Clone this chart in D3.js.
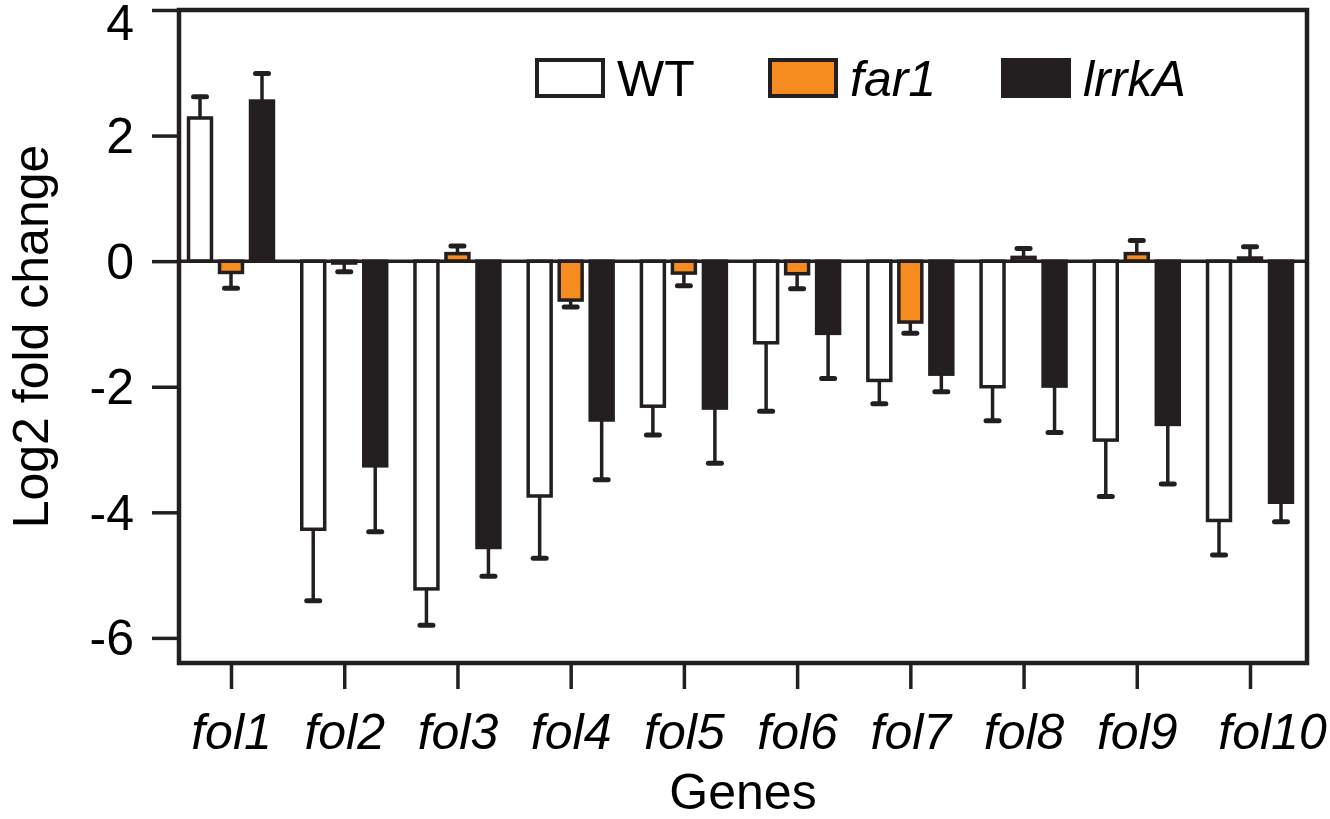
<!DOCTYPE html>
<html>
    <head>
        <title>Log2 fold change of fol genes</title>
        <script src="https://d3js.org/d3.v7.min.js"></script>
        <style>
            body { margin: 0; background: #fff; }
            text { font-family: "Liberation Sans", Arial, sans-serif; fill: #000; }
        </style>
    </head>
    <body>
        <div id="chart"></div>
        <script>
            //  data
            const genes = ["fol1", "fol2", "fol3", "fol4", "fol5", "fol6", "fol7", "fol8", "fol9", "fol10"];
            const series = ["WT", "far1", "lrrkA"];
            const wtMean = [2.28, -4.27, -5.22, -3.74, -2.31, -1.30, -1.90, -2.00, -2.85, -4.13];
            const wtErr = [0.34, 1.14, 0.58, 0.99, 0.46, 1.09, 0.37, 0.54, 0.90, 0.55];
            const far1Mean = [-0.18, -0.03, 0.12, -0.62, -0.19, -0.20, -0.97, 0.06, 0.12, 0.05];
            const far1Err = [0.25, 0.14, 0.12, 0.11, 0.20, 0.24, 0.18, 0.14, 0.21, 0.18];
            const lrrkMean = [2.55, -3.26, -4.56, -2.53, -2.34, -1.15, -1.80, -1.99, -2.60, -3.84];
            const lrrkErr = [0.44, 1.05, 0.46, 0.95, 0.88, 0.72, 0.28, 0.74, 0.95, 0.31];
            const yTicks = [4, 2, 0, -2, -4, -6];

            //  chart dimensions
            const width = 1330;
            const height = 819;
            const plot = {left: 179, right: 1307, top: 10, bottom: 663};

            const dark = "#231f20";
            const colors = {WT: "#ffffff", far1: "#f68b1f", lrrkA: "#231f20"};
            const italic = {WT: false, far1: true, lrrkA: true};

            const means = {WT: wtMean, far1: far1Mean, lrrkA: lrrkMean};
            const errs = {WT: wtErr, far1: far1Err, lrrkA: lrrkErr};

            //  flatten into one row per bar
            const rows = [];
            genes.forEach((g, i) => {
                series.forEach(s => {
                    rows.push({gene: g, series: s, value: means[s][i], err: errs[s][i]});
                });
            });

            const svg = d3.select("#chart").append("svg")
                .attr("width", width)
                .attr("height", height);

            //  scales
            const x = d3.scalePoint()
                .domain(genes)
                .range([231, 1250]);

            const xs = d3.scaleBand()
                .domain(series)
                .range([-46.5, 46.5])
                .paddingInner(0.26)
                .paddingOuter(0.13);

            const y = d3.scaleLinear()
                .domain([-6.4, 4])
                .range([plot.bottom, plot.top]);

            //  bars
            svg.append("g")
                .selectAll("rect")
                .data(rows)
                .join("rect")
                    .attr("x", d => x(d.gene) + xs(d.series))
                    .attr("width", xs.bandwidth())
                    .attr("y", d => y(Math.max(0, d.value)))
                    .attr("height", d => Math.abs(y(d.value) - y(0)))
                    .attr("fill", d => colors[d.series])
                    .attr("stroke", dark)
                    .attr("stroke-width", 3.5);

            //  error bars, pointing away from zero
            const errEnd = d => d.value >= 0 ? d.value + d.err : d.value - d.err;
            const errG = svg.append("g")
                .selectAll("g")
                .data(rows)
                .join("g")
                    .attr("transform", d => `translate(${x(d.gene) + xs(d.series) + xs.bandwidth() / 2},0)`);

            errG.append("line")
                .attr("y1", d => y(d.value))
                .attr("y2", d => y(errEnd(d)))
                .attr("stroke", dark)
                .attr("stroke-width", 3.5);

            errG.append("line")
                .attr("x1", -6.5)
                .attr("x2", 6.5)
                .attr("y1", d => y(errEnd(d)))
                .attr("y2", d => y(errEnd(d)))
                .attr("stroke", dark)
                .attr("stroke-width", 5)
                .attr("stroke-linecap", "round");

            //  zero line
            svg.append("line")
                .attr("x1", plot.left)
                .attr("x2", plot.right)
                .attr("y1", y(0))
                .attr("y2", y(0))
                .attr("stroke", dark)
                .attr("stroke-width", 3.5);

            //  frame: left axis, top, right, bottom
            svg.append("rect")
                .attr("x", plot.left)
                .attr("y", plot.top)
                .attr("width", plot.right - plot.left)
                .attr("height", plot.bottom - plot.top)
                .attr("fill", "none")
                .attr("stroke", dark)
                .attr("stroke-width", 4.5);

            //  y axis
            const yAxis = svg.append("g")
                .attr("transform", `translate(${plot.left},0)`)
                .call(d3.axisLeft(y).tickValues(yTicks).tickSize(27).tickPadding(18).tickFormat(d3.format("d")));
            yAxis.select(".domain").remove();
            yAxis.selectAll(".tick line").attr("stroke", dark).attr("stroke-width", 3.5);
            yAxis.selectAll(".tick text")
                .attr("font-size", 50)
                .attr("font-family", "Liberation Sans, Arial, sans-serif")
                .attr("fill", "#000")
                .attr("dy", d => y(d) < 22 ? (22 - y(d)) + 17 : 17)
                .text(d => d < 0 ? "-" + Math.abs(d) : d);

            //  x axis
            const xAxis = svg.append("g")
                .attr("transform", `translate(0,${plot.bottom})`)
                .call(d3.axisBottom(x).tickSize(26).tickPadding(0));
            xAxis.select(".domain").remove();
            xAxis.selectAll(".tick line").attr("stroke", dark).attr("stroke-width", 3.5);
            xAxis.selectAll(".tick text")
                .attr("font-size", 50)
                .attr("font-family", "Liberation Sans, Arial, sans-serif")
                .attr("font-style", "italic")
                .attr("fill", "#000")
                .attr("y", 86)
                .attr("dy", 0)
                .attr("dx", d => d === "fol10" ? 22 : 0);

            //  axis titles
            svg.append("text")
                .attr("x", (plot.left + plot.right) / 2)
                .attr("y", 809)
                .attr("text-anchor", "middle")
                .attr("font-size", 50)
                .text("Genes");

            svg.append("text")
                .attr("transform", `translate(48,${(plot.top + plot.bottom) / 2}) rotate(-90)`)
                .attr("text-anchor", "middle")
                .attr("font-size", 50)
                .text("Log2 fold change");

            //  legend
            const legendX = d3.scalePoint().domain(series).range([537, 1003]);
            const legend = svg.append("g")
                .selectAll("g")
                .data(series)
                .join("g")
                    .attr("transform", d => `translate(${legendX(d)},60)`);

            legend.append("rect")
                .attr("width", 66)
                .attr("height", 36)
                .attr("fill", d => colors[d])
                .attr("stroke", dark)
                .attr("stroke-width", 4);

            legend.append("text")
                .attr("x", 80)
                .attr("y", 36)
                .attr("font-size", 50)
                .attr("font-style", d => italic[d] ? "italic" : "normal")
                .text(d => d);
        </script>
    </body>
</html>
